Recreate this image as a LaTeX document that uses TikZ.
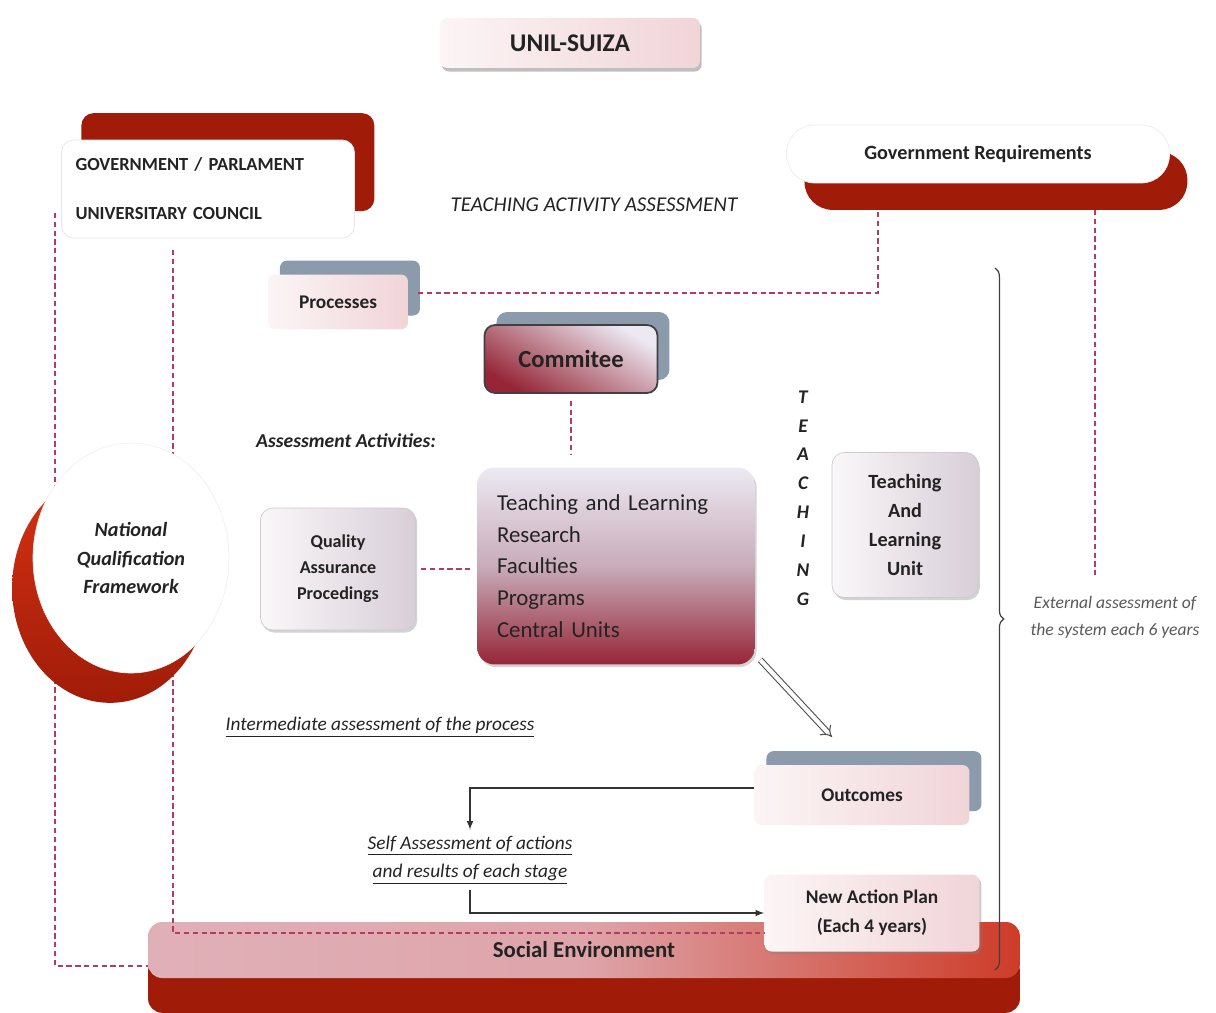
\documentclass[tikz,border=0pt]{standalone}
\usepackage{fontspec}
\setmainfont{Carlito}
\usepackage{tikz}
\usetikzlibrary{arrows,arrows.meta,shapes.geometric,shadows}
\usetikzlibrary{decorations.pathreplacing}
\newcommand\fsz[2]{\fontsize{#1}{#2}\selectfont}
\definecolor{red_dark}{RGB}{160,28,8}
\definecolor{red_light}{RGB}{205,60,40}
\definecolor{red_crs}{RGB}{215,50,20}
\definecolor{dash_red}{RGB}{180,60,100}
\definecolor{shade_gray}{RGB}{140,155,172}
\definecolor{pink_light}{RGB}{252,245,245}
\definecolor{pink_mid}{RGB}{240,212,216}
\definecolor{lav_light}{RGB}{236,233,242}
\definecolor{lav_white}{RGB}{250,247,249}
\definecolor{lav_gray}{RGB}{216,206,216}
\definecolor{ctr_mid}{RGB}{200,172,186}
\definecolor{wine}{RGB}{150,38,55}
\definecolor{se_pink}{RGB}{224,176,184}
\definecolor{text_gray}{RGB}{35,35,35}

\begin{document}
\begin{tikzpicture}[x=0.02cm,y=-0.02cm,>=latex,text=text_gray]
    \tikzstyle{pinkbox}=[rectangle, rounded corners=4pt, left color=pink_light, right color=pink_mid, font=\bfseries\fsz{11}{16.4}, align=center, inner sep=0pt]
    \tikzstyle{lavbox}=[rectangle, rounded corners=7pt, left color=lav_white, right color=lav_gray, draw=gray!40, font=\bfseries\fsz{10.3}{14.7}, align=center, drop shadow={shadow xshift=1pt, shadow yshift=-1.5pt, opacity=0.35}]
    \tikzstyle{graybk}=[general shadow={fill=shade_gray, shadow xshift=6.8pt, shadow yshift=7.9pt}]
    \tikzstyle{dashline}=[draw=dash_red, line width=1.2pt, dash pattern=on 3pt off 2pt]
    \tikzstyle{flow}=[->, draw=black!80, line width=0.7pt]
    \tikzstyle{note}=[font=\itshape\fsz{11}{15.9}, align=center]

    \useasboundingbox (0,0) rectangle (1216,1013);

    % bottom band first, the lines run over it
    \node[rectangle, rounded corners=8pt, minimum width=17.44cm, minimum height=1.12cm,
          left color=se_pink, right color=red_light, middle color=se_pink!90!red_light,
          general shadow={fill=red_dark, shadow yshift=-19.8pt},
          font=\bfseries\fsz{13}{16}] (socenv) at (584,950) {Social Environment};

    \node[pinkbox, minimum width=5.2cm, minimum height=1.0cm, font=\bfseries\fsz{14.5}{17},
          drop shadow={shadow xshift=1pt, shadow yshift=-2pt, opacity=0.5}] (unil) at (570,43) {UNIL-SUIZA};
    \node[rectangle, rounded corners=7pt, fill=white, draw=gray!20, minimum width=5.86cm, minimum height=1.96cm,
          text width=5.3cm, inner xsep=0.28cm, align=left, font=\bfseries\fsz{10.5}{27.8},
          general shadow={fill=red_dark, shadow xshift=11.3pt, shadow yshift=15.3pt}] (gov) at (208,189)
          {GOVERNMENT / PARLAMENT\\UNIVERSITARY COUNCIL};
    \node[rectangle, rounded corners=16pt, fill=white, draw=gray!15, minimum width=7.66cm, minimum height=1.16cm,
          font=\bfseries\fsz{11.5}{14},
          general shadow={fill=red_dark, shadow xshift=10.2pt, shadow yshift=-15.3pt}] (govreq) at (978,154) {Government Requirements};
    \node[pinkbox, graybk, minimum width=2.8cm, minimum height=1.1cm] (proc) at (338,302) {Processes};
    \node[rectangle, rounded corners=6pt, draw=black!75, line width=1pt, top color=lav_light, bottom color=wine, shading angle=-30,
          minimum width=3.46cm, minimum height=1.36cm, font=\bfseries\fsz{14}{17},
          general shadow={fill=shade_gray, shadow xshift=6.8pt, shadow yshift=7.4pt}] (comm) at (571,359) {Commitee};
    \node[rectangle, rounded corners=10pt, top color=lav_light, bottom color=wine, middle color=ctr_mid,
          minimum width=5.56cm, minimum height=3.94cm, text width=4.76cm, inner xsep=0.4cm, align=left, font=\fsz{13}{18.1},
          drop shadow={shadow xshift=1pt, shadow yshift=-1.5pt, opacity=0.35}] (ctr) at (616,566)
          {Teaching and Learning\\Research\\Faculties\\Programs\\Central Units};
    \node[lavbox, minimum width=3.1cm, minimum height=2.44cm] (qap) at (338,569) {Quality\\Assurance\\Procedings};
    \node[lavbox, minimum width=2.92cm, minimum height=2.9cm, font=\bfseries\fsz{11.5}{16.4}] (tlu) at (905,525) {Teaching\\And\\Learning\\Unit};
    \node[pinkbox, graybk, minimum width=4.3cm, minimum height=1.2cm] (outc) at (862,795) {Outcomes};
    \node[pinkbox, minimum width=4.3cm, minimum height=1.54cm,
          drop shadow={shadow xshift=1pt, shadow yshift=-1.5pt, opacity=0.4}] (nap) at (872,913) {New Action Plan\\(Each 4 years)};

    \node[font=\itshape\fsz{12}{14}]            (tact)  at (594,205)  {TEACHING ACTIVITY ASSESSMENT};
    \node[font=\bfseries\itshape\fsz{11.2}{14}] (aact)  at (346,441)  {Assessment Activities:};
    \node[font=\bfseries\itshape\fsz{11}{16.4}, align=center] (tvert) at (803,498) {T\\E\\A\\C\\H\\I\\N\\G};
    \node[note, text=black!65, font=\itshape\fsz{10}{15.3}] (ext) at (1115,617) {External assessment of\\the system each 6 years};
    \node[note] (inter) at (380,727) {\underline{Intermediate assessment of the process}};
    \node[note] (selfa) at (470,860) {\underline{Self Assessment of actions}\\\underline{and results of each stage}};

    \coordinate (gpL)  at (55,213);
    \coordinate (gpM)  at (173,250);
    \coordinate (seT)  at (765,933);
    \coordinate (grL)  at (878,210);
    \coordinate (grR)  at (1095,210);
    \coordinate (extT) at (1095,575);
    \coordinate (oc)   at (832,737);
    \coordinate (brT)  at (995,268);
    \coordinate (brB)  at (995,970);

    % dashed links
    \draw[dashline] (gpL) |- ([yshift=-9pt]socenv.west);
    \draw[dashline] (gpM) |- (seT);
    \draw[dashline] ([xshift=5.5pt,yshift=5pt]proc.east) -| (grL);
    \draw[dashline] (grR) -- (extT);
    \draw[dashline, shorten <=4pt, shorten >=7pt] (comm.south) -- (comm.south |- ctr.north);
    \draw[dashline, shorten <=3pt, shorten >=4pt] (qap.east) -- (qap.east -| ctr.west);

    % NQF sits over the two dashed lines
    \node[ellipse, fill=white, draw=gray!12, minimum width=3.92cm, minimum height=4.6cm,
          font=\bfseries\itshape\fsz{11.5}{16.4}, align=center,
          general shadow={top color=red_crs, bottom color=red_dark, shadow xshift=-11.9pt, shadow yshift=-17pt}] (nqf) at (131,558)
          {National\\Qualification\\Framework};

    \draw[double=white, double distance=2.4pt, line width=0.6pt, draw=black!70, -{Implies[scale=1.3]}]
        ([shift={(2.8pt,2.8pt)}]ctr.south east) -- (oc);
    \draw[flow] ([yshift=4pt]outc.west) -| (selfa.north);
    \draw[flow] (selfa.south) |- (nap.west);

    \draw[decorate, decoration={brace, amplitude=5pt}, draw=black!75, line width=0.7pt] (brT) -- (brB);
\end{tikzpicture}
\end{document}
